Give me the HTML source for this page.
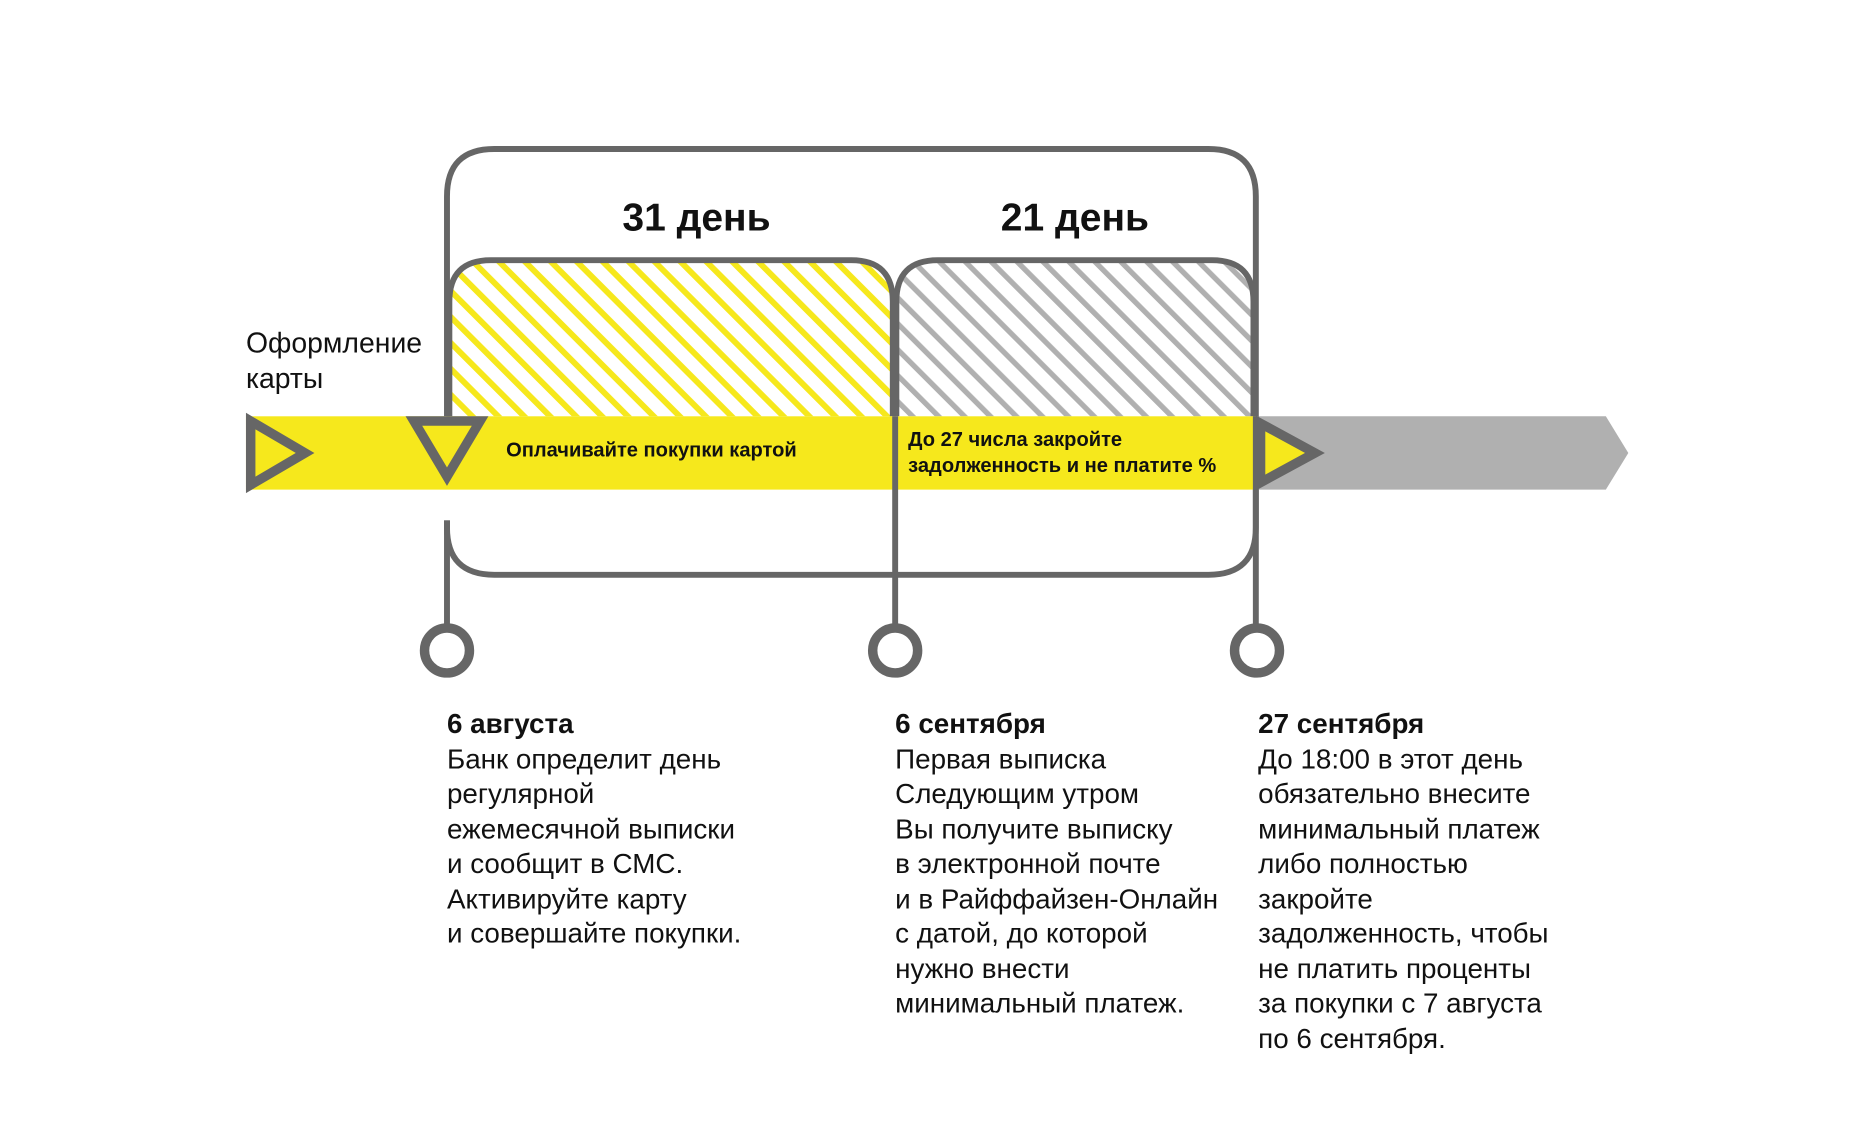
<!DOCTYPE html>
<html><head><meta charset="utf-8"><style>
html,body{margin:0;padding:0;background:#fff;}
svg{display:block;}
text{font-family:"Liberation Sans","DejaVu Sans",sans-serif;fill:#111;}
</style></head><body>
<svg width="1853" height="1146" viewBox="0 0 1567 969" preserveAspectRatio="none" xmlns="http://www.w3.org/2000/svg">
<defs>
<pattern id="hy" width="15.5" height="15.5" patternUnits="userSpaceOnUse" patternTransform="rotate(-45)">
<rect width="15.5" height="15.5" fill="#fff"/><rect x="0" y="0" width="5" height="15.5" fill="#f6e81c"/></pattern>
<pattern id="hg" width="15.5" height="15.5" patternUnits="userSpaceOnUse" patternTransform="rotate(-45)">
<rect width="15.5" height="15.5" fill="#fff"/><rect x="0" y="0" width="4.5" height="15.5" fill="#b0b0b0"/></pattern>
</defs>
<path d="M378 440 L378 446 Q378 486 418 486 L1022 486 Q1062 486 1062 446 L1062 166 Q1062 126 1022 126 L418 126 Q378 126 378 166 L378 352" fill="none" stroke="#666" stroke-width="5"/>
<path d="M380 352 L380 255 Q380 220 415 220 L720 220 Q755 220 755 255 L755 352 Z" fill="url(#hy)"/>
<path d="M758 352 L758 255 Q758 220 793 220 L1025 220 Q1060 220 1060 255 L1060 352 Z" fill="url(#hg)"/>
<path d="M380 352 L380 255 Q380 220 415 220 L720 220 Q755 220 755 255 L755 352" fill="none" stroke="#666" stroke-width="5"/>
<path d="M758 352 L758 255 Q758 220 793 220 L1025 220 Q1060 220 1060 255 L1060 352" fill="none" stroke="#666" stroke-width="5"/>
<rect x="208" y="352" width="856" height="62" fill="#f6e81c"/>
<polygon points="1062,352 1358,352 1377,383 1358,414 1062,414" fill="#b0b0b0"/>
<line x1="378" y1="440" x2="378" y2="530" stroke="#666" stroke-width="5"/>
<line x1="757" y1="352" x2="757" y2="530" stroke="#666" stroke-width="5"/>
<line x1="1062" y1="352" x2="1062" y2="530" stroke="#666" stroke-width="5"/>
<polygon points="212,356 258,383 212,410" fill="#f6e81c" stroke="#666" stroke-width="8"/>
<polygon points="350,356 406,356 378,403" fill="#f6e81c" stroke="#666" stroke-width="8"/>
<polygon points="1066,358 1112,383 1066,408" fill="#f6e81c" stroke="#666" stroke-width="8"/>
<circle cx="378" cy="550" r="19" fill="#fff" stroke="#666" stroke-width="8"/>
<circle cx="757" cy="550" r="19" fill="#fff" stroke="#666" stroke-width="8"/>
<circle cx="1063" cy="550" r="19" fill="#fff" stroke="#666" stroke-width="8"/>
<text x="589" y="195" font-size="33" font-weight="bold" text-anchor="middle">31 день</text>
<text x="909" y="195" font-size="33" font-weight="bold" text-anchor="middle">21 день</text>
<text x="208" y="298" font-size="24">Оформление</text>
<text x="208" y="328" font-size="24">карты</text>
<text x="428" y="386" font-size="17" font-weight="bold">Оплачивайте покупки картой</text>
<text x="768" y="377" font-size="17" font-weight="bold">До 27 числа закройте</text>
<text x="768" y="399" font-size="17" font-weight="bold">задолженность и не платите %</text>
<g font-size="23.5">
<text x="378" y="620" font-weight="bold">6 августа</text>
<text x="378" y="650">Банк определит день</text>
<text x="378" y="679">регулярной</text>
<text x="378" y="709">ежемесячной выписки</text>
<text x="378" y="738">и сообщит в СМС.</text>
<text x="378" y="768">Активируйте карту</text>
<text x="378" y="797">и совершайте покупки.</text>
<text x="757" y="620" font-weight="bold">6 сентября</text>
<text x="757" y="650">Первая выписка</text>
<text x="757" y="679">Следующим утром</text>
<text x="757" y="709">Вы получите выписку</text>
<text x="757" y="738">в электронной почте</text>
<text x="757" y="768">и в Райффайзен-Онлайн</text>
<text x="757" y="797">с датой, до которой</text>
<text x="757" y="827">нужно внести</text>
<text x="757" y="856">минимальный платеж.</text>
<text x="1064" y="620" font-weight="bold">27 сентября</text>
<text x="1064" y="650">До 18:00 в этот день</text>
<text x="1064" y="679">обязательно внесите</text>
<text x="1064" y="709">минимальный платеж</text>
<text x="1064" y="738">либо полностью</text>
<text x="1064" y="768">закройте</text>
<text x="1064" y="797">задолженность, чтобы</text>
<text x="1064" y="827">не платить проценты</text>
<text x="1064" y="856">за покупки с 7 августа</text>
<text x="1064" y="886">по 6 сентября.</text>
</g>
</svg>
</body></html>
